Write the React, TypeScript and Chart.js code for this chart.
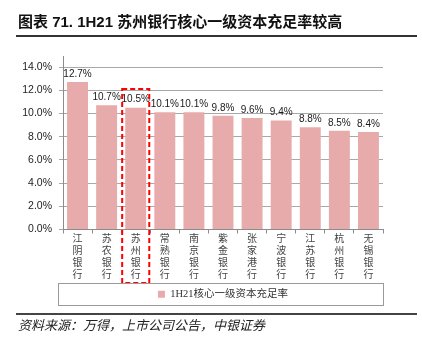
import React, { useEffect, useRef } from "react";
import { Chart, registerables } from "chart.js";

Chart.register(...registerables);

const titleText = "图表 71. 1H21 苏州银行核心一级资本充足率较高";
const sourceText = "资料来源：万得，上市公司公告，中银证券";
const seriesName = "1H21核心一级资本充足率";
const banks = [
  "江阴银行",
  "苏农银行",
  "苏州银行",
  "常熟银行",
  "南京银行",
  "紫金银行",
  "张家港行",
  "宁波银行",
  "江苏银行",
  "杭州银行",
  "无锡银行",
];
const ratios = [12.7, 10.7, 10.5, 10.1, 10.1, 9.8, 9.6, 9.4, 8.8, 8.5, 8.4];
const yTicks = [0, 2, 4, 6, 8, 10, 12, 14];
const yMax = 14.95;
const highlightIndex = 2;
const highlightTop = 12.1;

const BAR_COLOR = "#E8ABAB";
const SERIF = "'Liberation Serif', 'Noto Sans CJK SC', serif";
const SANS = "'Liberation Sans', Arial, sans-serif";

const valueLabelPlugin = {
  id: "valueLabels",
  afterDatasetsDraw(chart: any) {
    const { ctx } = chart;
    const meta = chart.getDatasetMeta(0);
    ctx.save();
    ctx.font = `10px ${SANS}`;
    ctx.fillStyle = "#1a1a1a";
    ctx.textAlign = "center";
    ctx.textBaseline = "bottom";
    meta.data.forEach((bar: any, i: number) => {
      ctx.fillText(ratios[i].toFixed(1) + "%", bar.x, bar.y - 3);
    });
    ctx.restore();
  },
};

const highlightPlugin = {
  id: "highlightBox",
  afterDraw(chart: any) {
    const { ctx } = chart;
    const xs = chart.scales.x;
    const ys = chart.scales.y;
    const half = xs.width / banks.length / 2;
    const cx = xs.getPixelForValue(highlightIndex);
    const top = ys.getPixelForValue(highlightTop);
    const bottom = xs.bottom + 4;
    ctx.save();
    ctx.strokeStyle = "#FF0000";
    ctx.lineWidth = 2;
    ctx.setLineDash([5, 3]);
    ctx.strokeRect(cx - half + 1, top, half * 2 - 2, bottom - top);
    ctx.restore();
  },
};

const legendBoxPlugin = {
  id: "legendBox",
  afterDraw(chart: any) {
    const lg = chart.legend;
    if (!lg || !lg.legendHitBoxes || !lg.legendHitBoxes.length) return;
    const hb = lg.legendHitBoxes[0];
    const cy = hb.top + hb.height / 2;
    const { ctx } = chart;
    const left = Math.round(chart.chartArea.left - 5) + 0.5;
    const right = Math.round(chart.chartArea.right) + 0.5;
    ctx.save();
    ctx.strokeStyle = "#9a9a9a";
    ctx.lineWidth = 1;
    ctx.strokeRect(left, Math.round(cy - 11) + 0.5, right - left, 22);
    ctx.restore();
  },
};

export default function App() {
  const canvasRef = useRef<HTMLCanvasElement | null>(null);

  useEffect(() => {
    document.body.style.margin = "0";
    const canvas = canvasRef.current;
    if (!canvas) return;
    const chart = new Chart(canvas, {
      type: "bar",
      data: {
        labels: banks.map((b) => b.split("")),
        datasets: [
          {
            label: seriesName,
            data: ratios,
            backgroundColor: BAR_COLOR,
            borderWidth: 0,
            categoryPercentage: 1,
            barPercentage: 0.72,
          },
        ],
      },
      options: {
        responsive: false,
        animation: false,
        devicePixelRatio: 1,
        layout: { padding: { left: 0, right: 39, top: 56, bottom: 41.5 } },
        plugins: {
          title: { display: false },
          tooltip: { enabled: false },
          legend: {
            display: true,
            position: "bottom",
            fullSize: false,
            labels: {
              boxWidth: 7,
              boxHeight: 7,
              padding: 10,
              color: "#333",
              font: { family: SERIF, size: 10.5 },
            },
          },
        },
        scales: {
          x: {
            grid: {
              display: true,
              drawOnChartArea: false,
              drawTicks: true,
              tickLength: 4,
              color: "#8c8c8c",
              offset: true,
            },
            border: { display: true, color: "#8c8c8c" },
            ticks: {
              autoSkip: false,
              maxRotation: 0,
              minRotation: 0,
              padding: 0,
              color: "#444",
              font: { family: SERIF, size: 10, lineHeight: 1.2 },
            },
            afterFit: (axis: any) => {
              axis.height = 49.5;
            },
          },
          y: {
            min: 0,
            max: yMax,
            ticks: {
              stepSize: 2,
              padding: 7,
              color: "#222",
              font: { family: SANS, size: 10.5 },
              callback: (v: any) => Number(v).toFixed(1) + "%",
            },
            afterBuildTicks: (axis: any) => {
              axis.ticks = yTicks.map((v) => ({ value: v }));
            },
            grid: {
              color: "#a8a8a8",
              tickLength: 4,
              drawTicks: true,
            },
            border: { display: true, color: "#8c8c8c" },
            afterFit: (axis: any) => {
              axis.width = 63;
            },
          },
        },
      },
      plugins: [valueLabelPlugin, highlightPlugin, legendBoxPlugin],
    });
    return () => chart.destroy();
  }, []);

  return (
    <div style={{ position: "absolute", left: 0, top: 0, width: 422, height: 351, background: "#fff", overflow: "hidden" }}>
      <canvas ref={canvasRef} width={422} height={351} style={{ position: "absolute", left: 0, top: 0, width: 422, height: 351 }} />
      <div
        style={{
          position: "absolute",
          left: 18,
          top: 12,
          fontFamily: "'Liberation Sans', 'Noto Sans CJK SC', sans-serif",
          fontWeight: "bold",
          fontSize: 15,
          lineHeight: "20px",
          color: "#111",
          whiteSpace: "nowrap",
        }}
      >
        {titleText}
      </div>
      <div style={{ position: "absolute", left: 16, top: 35, width: 401, height: 1.5, background: "#333" }} />
      <div style={{ position: "absolute", left: 16, top: 313, width: 401, height: 1.5, background: "#444" }} />
      <div
        style={{
          position: "absolute",
          left: 18,
          top: 316,
          fontFamily: "'Noto Sans CJK SC', sans-serif",
          fontStyle: "italic",
          fontSize: 13,
          lineHeight: "18px",
          color: "#222",
          whiteSpace: "nowrap",
        }}
      >
        {sourceText}
      </div>
    </div>
  );
}
